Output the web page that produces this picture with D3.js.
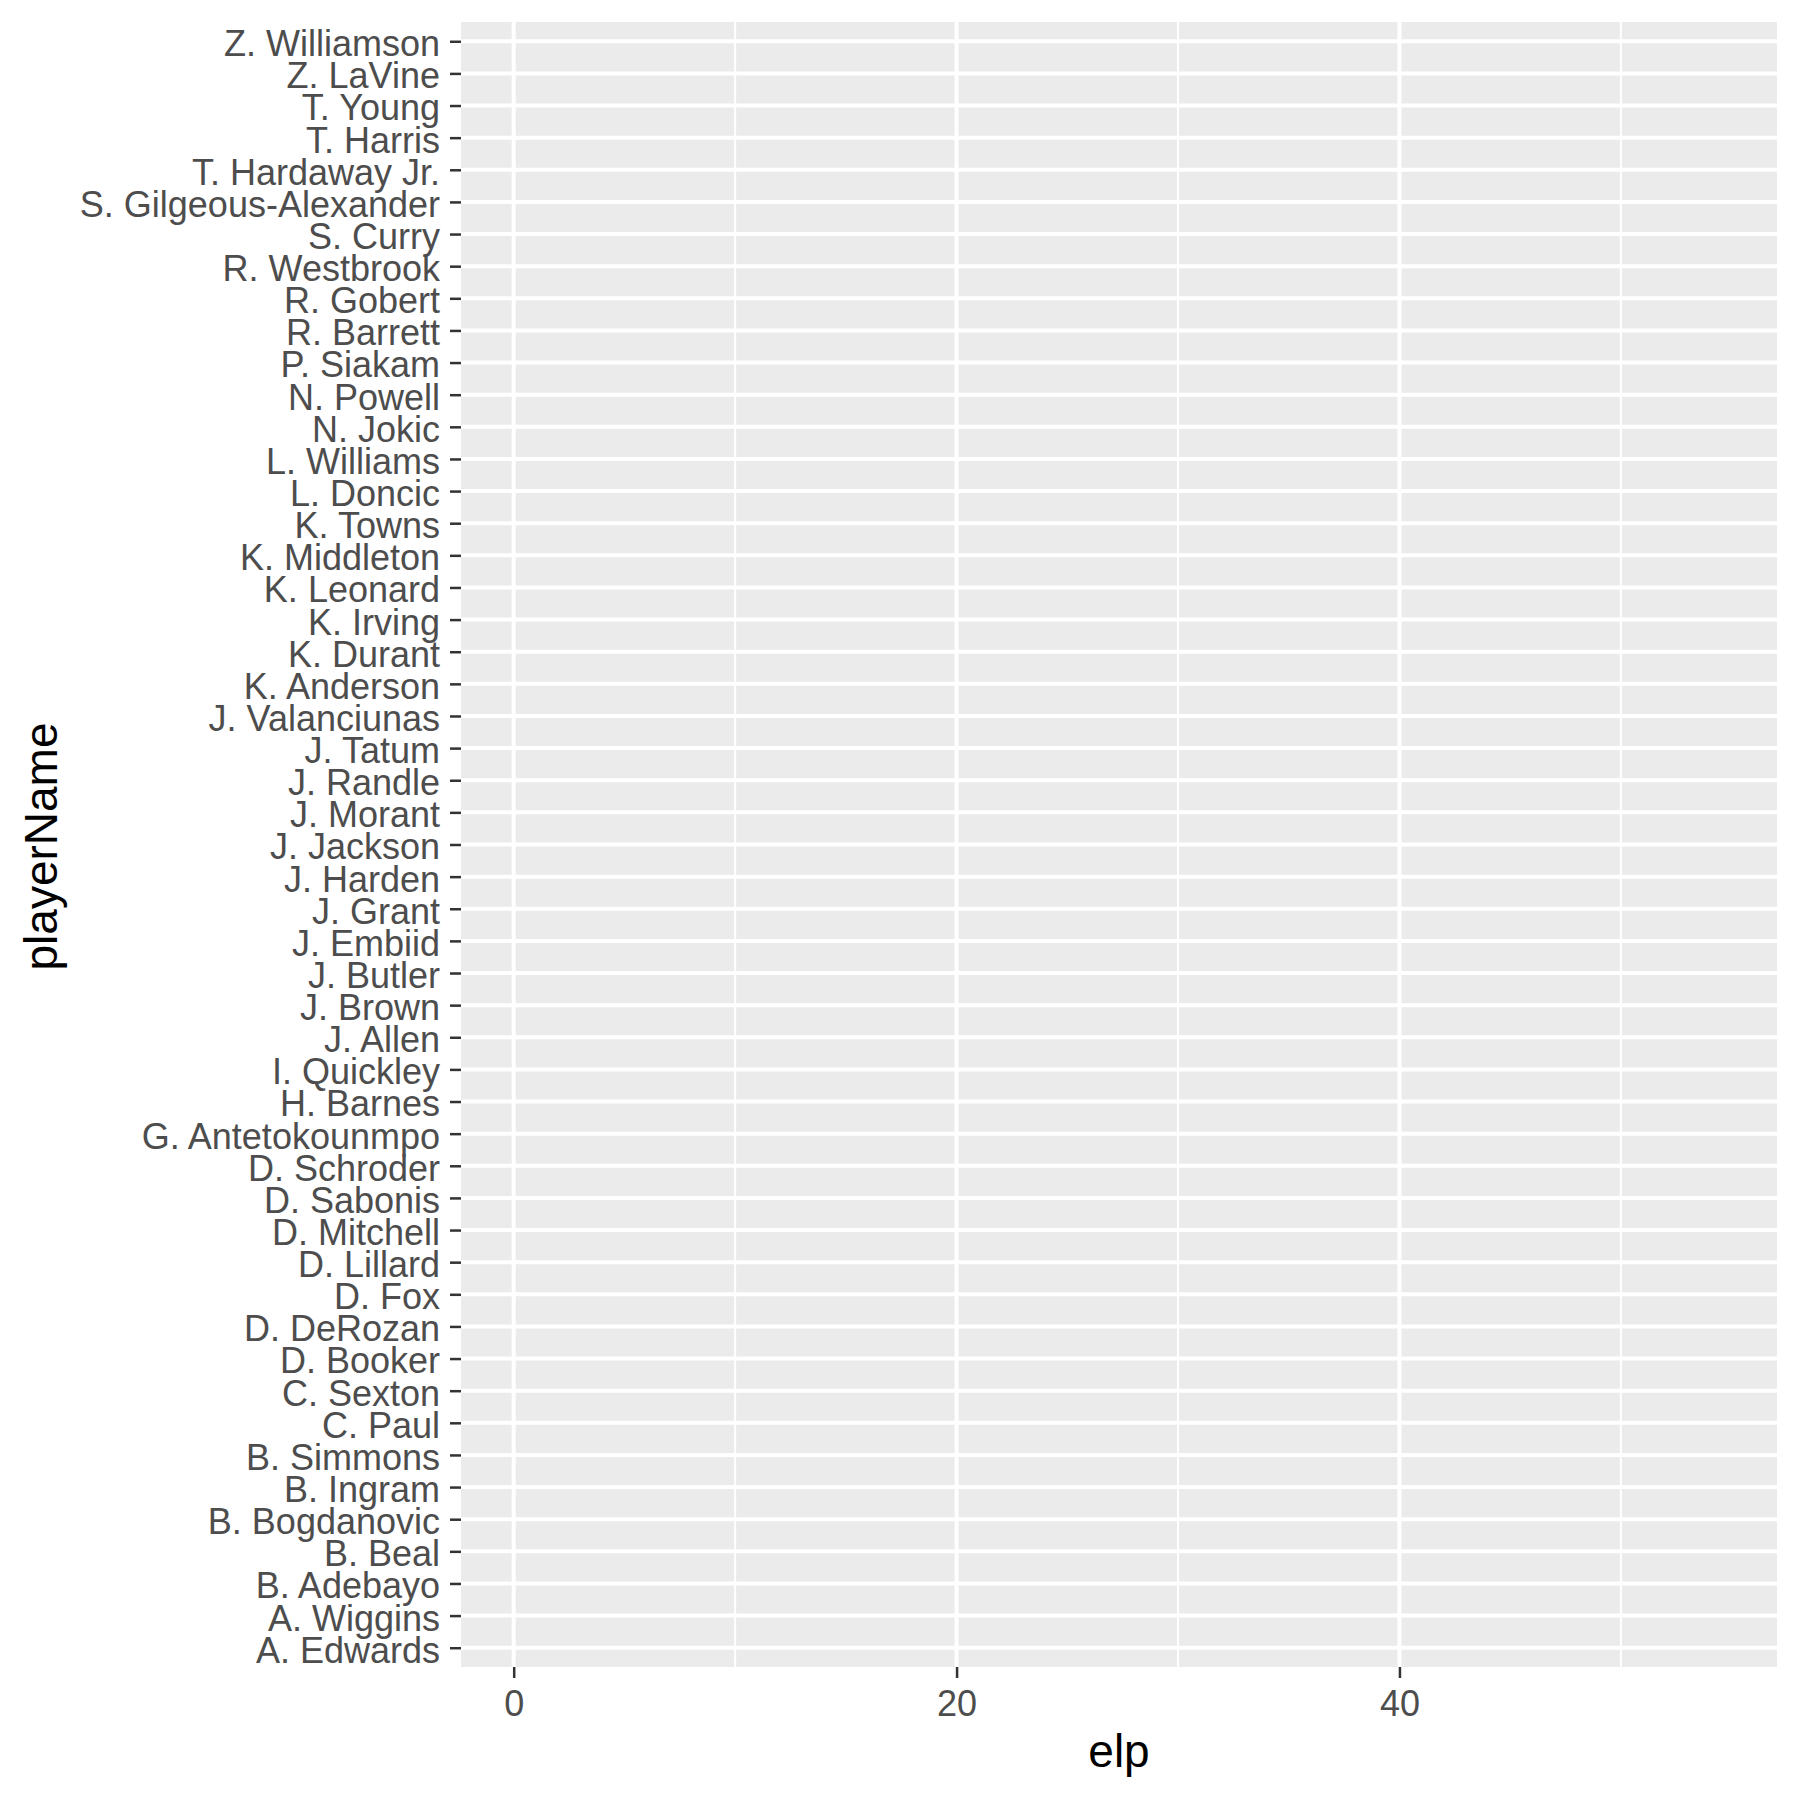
<!DOCTYPE html>
<html>
<head>
<meta charset="utf-8">
<script src="https://cdn.jsdelivr.net/npm/d3@7"></script>
<style>
  html, body { margin: 0; padding: 0; background: #ffffff; }
  svg { display: block; }
</style>
</head>
<body>
<div id="chart"></div>
<script>
// Categories from bottom to top, as in the reference
const players = [
  "A. Edwards", "A. Wiggins", "B. Adebayo", "B. Beal", "B. Bogdanovic", "B. Ingram",
  "B. Simmons", "C. Paul", "C. Sexton", "D. Booker", "D. DeRozan", "D. Fox",
  "D. Lillard", "D. Mitchell", "D. Sabonis", "D. Schroder", "G. Antetokounmpo",
  "H. Barnes", "I. Quickley", "J. Allen", "J. Brown", "J. Butler", "J. Embiid",
  "J. Grant", "J. Harden", "J. Jackson", "J. Morant", "J. Randle", "J. Tatum",
  "J. Valanciunas", "K. Anderson", "K. Durant", "K. Irving", "K. Leonard",
  "K. Middleton", "K. Towns", "L. Doncic", "L. Williams", "N. Jokic", "N. Powell",
  "P. Siakam", "R. Barrett", "R. Gobert", "R. Westbrook", "S. Curry",
  "S. Gilgeous-Alexander", "T. Hardaway Jr.", "T. Harris", "T. Young",
  "Z. LaVine", "Z. Williamson"
];
const xDomain = [-2.38, 57.05];
const xMajorTicks = [0, 20, 40];
const xMinorTicks = [10, 30, 50];
const xTitle = "elp";
const yTitle = "playerName";

const W = 1800, H = 1800;
const panel = { left: 461, top: 22, right: 1777, bottom: 1667 };
const font = "'Liberation Sans', Arial, Helvetica, sans-serif";

const svg = d3.select("#chart").append("svg")
  .attr("width", W).attr("height", H)
  .attr("viewBox", `0 0 ${W} ${H}`);

svg.append("rect").attr("width", W).attr("height", H).attr("fill", "#ffffff");

const x = d3.scaleLinear().domain(xDomain).range([panel.left, panel.right]);
const n = players.length;
// ggplot discrete expansion of 0.6 units on each side
const yPos = d3.scaleLinear().domain([-0.6, n - 1 + 0.6]).range([panel.bottom, panel.top]);
const y = d3.scalePoint().domain(players).range([yPos(0), yPos(n - 1)]);

// panel background
svg.append("rect")
  .attr("x", panel.left).attr("y", panel.top)
  .attr("width", panel.right - panel.left).attr("height", panel.bottom - panel.top)
  .attr("fill", "#EBEBEB");

const grid = svg.append("g");
// minor vertical grid
grid.selectAll("line.minor").data(xMinorTicks).enter().append("line")
  .attr("x1", d => x(d)).attr("x2", d => x(d))
  .attr("y1", panel.top).attr("y2", panel.bottom)
  .attr("stroke", "#ffffff").attr("stroke-width", 2);
// major vertical grid
grid.selectAll("line.majorx").data(xMajorTicks).enter().append("line")
  .attr("x1", d => x(d)).attr("x2", d => x(d))
  .attr("y1", panel.top).attr("y2", panel.bottom)
  .attr("stroke", "#ffffff").attr("stroke-width", 4);
// major horizontal grid
grid.selectAll("line.majory").data(players).enter().append("line")
  .attr("x1", panel.left).attr("x2", panel.right)
  .attr("y1", d => y(d)).attr("y2", d => y(d))
  .attr("stroke", "#ffffff").attr("stroke-width", 4);

// Y axis
const yAxis = svg.append("g")
  .attr("transform", `translate(${panel.left},0)`)
  .call(d3.axisLeft(y).tickSize(11).tickPadding(10));
yAxis.select(".domain").remove();
yAxis.selectAll(".tick line").attr("stroke", "#333333").attr("stroke-width", 2.5);
yAxis.selectAll(".tick text")
  .attr("fill", "#4D4D4D")
  .style("font-family", font)
  .style("font-size", "36px")
  .attr("dy", "0.4em");

// X axis
const xAxis = svg.append("g")
  .attr("transform", `translate(0,${panel.bottom})`)
  .call(d3.axisBottom(x).tickValues(xMajorTicks).tickSize(11).tickPadding(10).tickFormat(d3.format("d")));
xAxis.select(".domain").remove();
xAxis.selectAll(".tick line").attr("stroke", "#333333").attr("stroke-width", 2.5);
xAxis.selectAll(".tick text")
  .attr("fill", "#4D4D4D")
  .style("font-family", font)
  .style("font-size", "36px")
  .attr("dy", "0.77em");

// titles
svg.append("text")
  .attr("x", (panel.left + panel.right) / 2)
  .attr("y", 1767)
  .attr("text-anchor", "middle")
  .style("font-family", font)
  .style("font-size", "46px")
  .attr("fill", "#000000")
  .text(xTitle);

svg.append("text")
  .attr("transform", `translate(57,${(panel.top + panel.bottom) / 2 + 2}) rotate(-90)`)
  .attr("text-anchor", "middle")
  .style("font-family", font)
  .style("font-size", "46px")
  .attr("fill", "#000000")
  .text(yTitle);
</script>
</body>
</html>
